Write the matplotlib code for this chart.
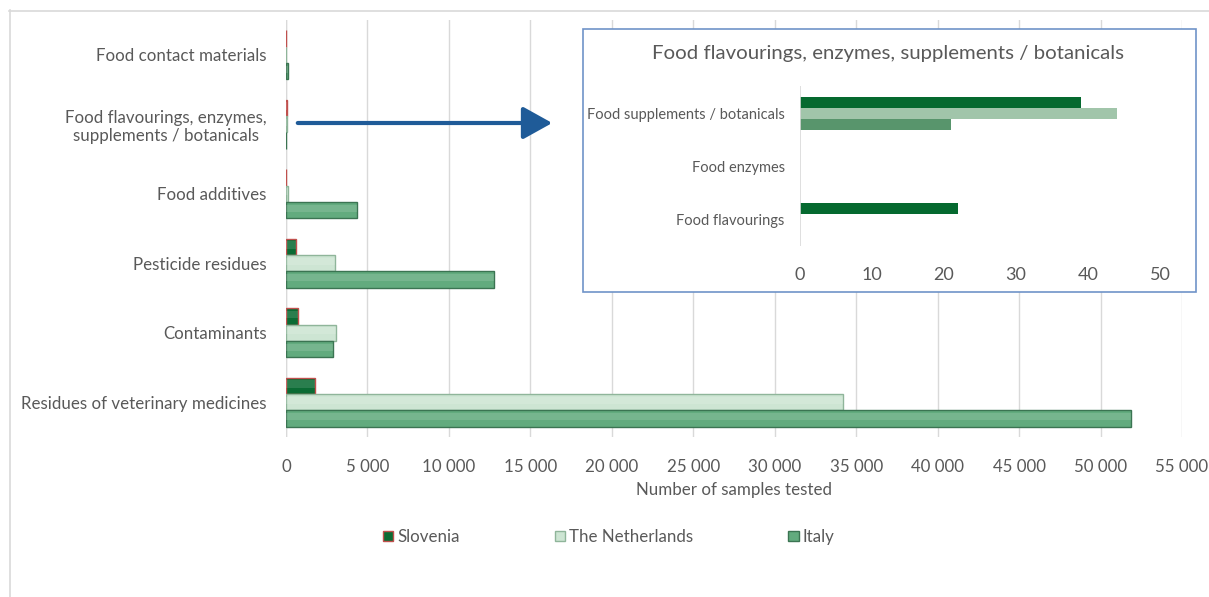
import numpy as np
import matplotlib
matplotlib.use("Agg")
import matplotlib.pyplot as plt
from matplotlib.lines import Line2D
from matplotlib.patches import Rectangle, Patch, FancyArrowPatch

plt.rcParams["font.family"] = ["Lato", "DejaVu Sans"]

# main chart, listed top to bottom as shown
categories = [
    "Food contact materials",
    "Food flavourings, enzymes,\nsupplements / botanicals",
    "Food additives",
    "Pesticide residues",
    "Contaminants",
    "Residues of veterinary medicines",
]
slovenia = [20, 61, 30, 620, 720, 1780]
netherlands = [0, 44, 150, 3010, 3070, 34190]
italy = [120, 21, 4360, 12770, 2890, 51870]
x_ticks = list(range(0, 55001, 5000))

# inset chart, top to bottom
inset_categories = ["Food supplements / botanicals", "Food enzymes", "Food flavourings"]
inset_slovenia = [39, 0, 22]
inset_netherlands = [44, 0, 0]
inset_italy = [21, 0, 0]
inset_ticks = [0, 10, 20, 30, 40, 50]

series = ["Slovenia", "The Netherlands", "Italy"]
face = {"Slovenia": "#0b6b34", "The Netherlands": "#cde5d3", "Italy": "#62ab7e"}
edge = {"Slovenia": "#c0504d", "The Netherlands": "#8fb59a", "Italy": "#3b7452"}
inset_face = {"Slovenia": "#05692f", "The Netherlands": "#a1c5aa", "Italy": "#58956c"}
text_gray = "#595959"

W, H = 1209, 597
fig = plt.figure(figsize=(W / 100, H / 100), dpi=100)


def fx(px):
    return px / W


def fy(py):
    return 1 - py / H


# light frame around the chart
fig.add_artist(Line2D([fx(9), 1], [fy(10.5), fy(10.5)], color="#d9d9d9", lw=1.2))
fig.add_artist(Line2D([fx(9.5), fx(9.5)], [fy(10), 0], color="#d9d9d9", lw=1.2))

ax = fig.add_axes([fx(286), fy(437), fx(1182) - fx(286), fy(20) - fy(437)])
n = len(categories)
ypos = np.arange(n)[::-1]
h = 0.237
offsets = {"Slovenia": h, "The Netherlands": 0, "Italy": -h}
values = {"Slovenia": slovenia, "The Netherlands": netherlands, "Italy": italy}

for name in series:
    y = ypos + offsets[name]
    ax.barh(y, values[name], height=h, color=face[name], edgecolor=edge[name],
            linewidth=1.0, zorder=3)
    # soft highlight to hint at the bevelled bars
    ax.barh(y + h * 0.12, values[name], height=h * 0.45, color="white", alpha=0.13,
            linewidth=0, zorder=4)

ax.set_xlim(0, 55000)
ax.set_ylim(-0.5, n - 0.5)
ax.set_xticks(x_ticks)
ax.set_xticklabels([f"{t:,}".replace(",", " ") for t in x_ticks])
ax.set_yticks(ypos)
ax.set_yticklabels(categories, multialignment="center")
ax.tick_params(axis="x", length=0, pad=16, labelsize=12.2, labelcolor=text_gray)
ax.tick_params(axis="y", length=0, pad=14, labelsize=12.2, labelcolor=text_gray)
ax.grid(axis="x", color="#d9d9d9", lw=1, zorder=0)
for s in ax.spines.values():
    s.set_visible(False)
ax.axvline(0, color="#d9d9d9", lw=1, zorder=1)
ax.set_xlabel("Number of samples tested", fontsize=12.2, color=text_gray, labelpad=5)

# inset box and chart
fig.add_artist(Rectangle((fx(583), fy(292)), fx(1196) - fx(583), fy(29) - fy(292),
                         transform=fig.transFigure, facecolor="white",
                         edgecolor="#6f93c8", lw=1.2, zorder=5))
iax = fig.add_axes([fx(800), fy(246.5), fx(1160) - fx(800), fy(86.5) - fy(246.5)], zorder=6)
iax.patch.set_alpha(0)
m = len(inset_categories)
iy = np.arange(m)[::-1]
ih = 0.206
ioff = {"Slovenia": ih, "The Netherlands": 0, "Italy": -ih}
ivalues = {"Slovenia": inset_slovenia, "The Netherlands": inset_netherlands, "Italy": inset_italy}
for name in series:
    iax.barh(iy + ioff[name], ivalues[name], height=ih, color=inset_face[name], linewidth=0)
iax.set_xlim(0, 50)
iax.set_ylim(-0.5, m - 0.5)
iax.set_xticks(inset_ticks)
iax.set_yticks(iy)
iax.set_yticklabels(inset_categories)
iax.tick_params(axis="x", length=0, pad=15, labelsize=13, labelcolor=text_gray)
iax.tick_params(axis="y", length=0, pad=11, labelsize=10.5, labelcolor=text_gray)
for s in iax.spines.values():
    s.set_visible(False)
iax.axvline(0, color="#d9d9d9", lw=1.2)
fig.text(fx(888), fy(54), "Food flavourings, enzymes, supplements / botanicals",
         ha="center", va="center", fontsize=14.7, color=text_gray, zorder=7)

# arrow pointing to the inset
fig.add_artist(FancyArrowPatch(
    (fx(295), fy(123)), (fx(555), fy(123)), transform=fig.transFigure,
    arrowstyle="-|>,head_length=9,head_width=5", color="#1f5b98", lw=3.0,
    mutation_scale=2, zorder=8))

handles = [Patch(facecolor=face[s], edgecolor=edge[s], linewidth=1) for s in series]
fig.legend(handles, series, loc="center", bbox_to_anchor=(fx(609), fy(537)), ncol=3,
           frameon=False, fontsize=12.2, labelcolor=text_gray, columnspacing=5.6,
           handlelength=0.6, handleheight=0.6, handletextpad=0.25)

fig.savefig("out.png", dpi=100)
